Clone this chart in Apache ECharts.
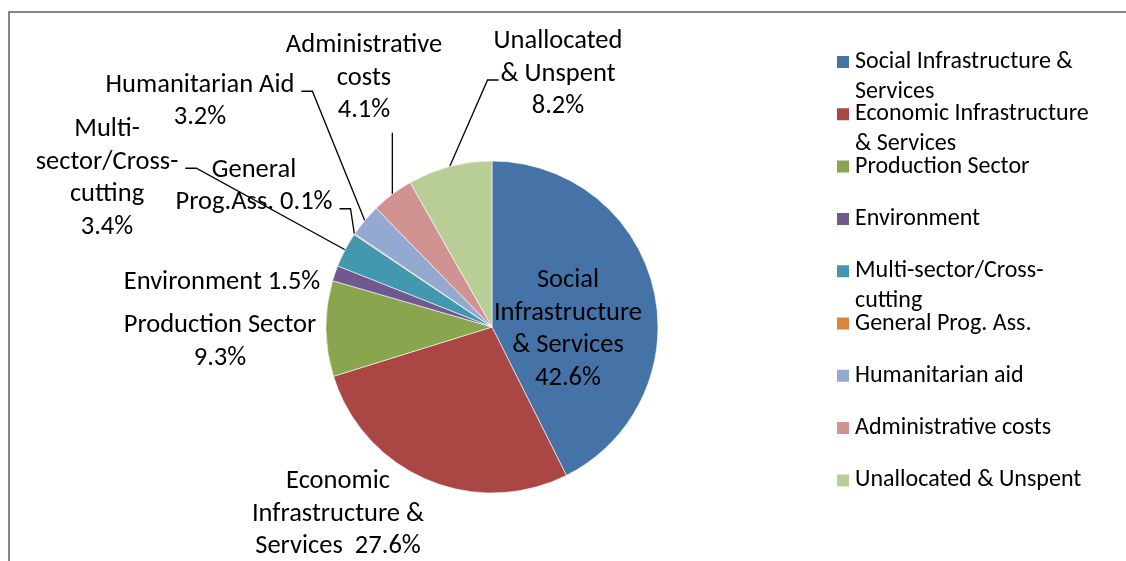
<!DOCTYPE html>
<html>
<head>
<meta charset="utf-8">
<script src="https://cdn.jsdelivr.net/npm/echarts@6/dist/echarts.min.js"></script>
<style>
  html, body { margin: 0; padding: 0; background: #fff; }
  #frame { position: absolute; left: 8px; top: 11px; width: 1300px; height: 800px;
           border-left: 2px solid #878787; border-top: 2px solid #878787; }
  #chart { position: absolute; left: 0; top: 0; width: 1126px; height: 561px; }
</style>
</head>
<body>
<div id="frame"></div>
<div id="chart"></div>
<script>
// Sectors, in clockwise order from 12 o'clock
const categories = [
  'Social Infrastructure & Services',
  'Economic Infrastructure & Services',
  'Production Sector',
  'Environment',
  'Multi-sector/Cross-cutting',
  'General Prog. Ass.',
  'Humanitarian aid',
  'Administrative costs',
  'Unallocated & Unspent'
];
// Share of the total, percent
const shares = [42.6, 27.6, 9.3, 1.5, 3.4, 0.1, 3.2, 4.1, 8.2];

// Legend entries as they wrap
const legendText = [
  'Social Infrastructure &\nServices',
  'Economic Infrastructure\n& Services',
  'Production Sector',
  'Environment',
  'Multi-sector/Cross-\ncutting',
  'General Prog. Ass.',
  'Humanitarian aid',
  'Administrative costs',
  'Unallocated & Unspent'
];
// Slice label names and what separates them from the percentage
const labelNames = [
  'Social\nInfrastructure\n& Services',
  'Economic\nInfrastructure &\nServices',
  'Production Sector',
  'Environment',
  'Multi-\nsector/Cross-\ncutting',
  'General\nProg.Ass.',
  'Humanitarian Aid',
  'Administrative\ncosts',
  'Unallocated\n& Unspent'
];
const valueSep = ['\n', '  ', '\n', ' ', '\n', ' ', '\n', '\n', '\n'];

const sliceColors = ['#4572A7', '#AA4643', '#89A54E', '#71588F', '#4198AF',
                     '#DB843D', '#93A9CF', '#D19392', '#B9CD96'];

// Layout: centre of each label block (px)
const labelCentres = [
  [568, 329.5], [338, 514], [220, 342], [222, 282], [107, 178.5],
  [254, 186.5], [200, 101.5], [364, 78], [558, 74]
];
// Leader lines: which side of the label block they join, and at which text line
const leaders = [null, null, null, null,
  { side: 'right', line: 1 }, { side: 'right', line: 1 }, { side: 'right', line: 0 },
  { side: 'bottom' }, { side: 'left', line: 1 }];

const FONT = 'Carlito, Calibri, Lato, sans-serif';
const LABEL_LH = 32.5;
const LEGEND_LH = 30;
const LEGEND_FIRST = 62;    // centre of the first legend swatch
const LEGEND_STEP = 52.3;   // swatch-to-swatch distance

const chart = echarts.init(document.getElementById('chart'), null, { renderer: 'canvas' });

const pieData = categories.map((name, i) => ({
  name: name,
  value: shares[i],
  itemStyle: { color: sliceColors[i] },
  label: i === 0 ? { position: 'inside' } : {},
  labelLine: { show: !!leaders[i] }
}));

// One legend block per entry so wrapped entries keep an even pitch.
// Wrapped text gets empty leading lines so its first line sits level
// with the swatch (legend text is always centred on the swatch).
const legends = categories.map((name, i) => {
  const lines = legendText[i].split('\n').length;
  const boxH = (2 * lines - 1) * LEGEND_LH;
  return {
    orient: 'vertical',
    left: 835,
    top: LEGEND_FIRST + i * LEGEND_STEP - boxH / 2,
    padding: 0,
    itemWidth: 14,
    itemHeight: 14,
    icon: 'rect',
    selectedMode: false,
    data: [name],
    formatter: n => '\n'.repeat(lines - 1) + legendText[categories.indexOf(n)],
    textStyle: { fontFamily: FONT, fontSize: 24, color: '#000', lineHeight: LEGEND_LH }
  };
});

chart.setOption({
  animation: false,
  backgroundColor: 'transparent',
  legend: legends,
  series: [{
    type: 'pie',
    center: [492, 327],
    radius: 166,
    startAngle: 90,
    clockwise: true,
    avoidLabelOverlap: false,
    itemStyle: { borderColor: '#ffffff', borderWidth: 0.6 },
    emphasis: { disabled: true },
    data: pieData,
    label: {
      show: true,
      position: 'outside',
      fontFamily: FONT,
      fontSize: 26.5,
      lineHeight: LABEL_LH,
      color: '#000',
      align: 'center',
      formatter: p => labelNames[p.dataIndex] + valueSep[p.dataIndex] + p.value.toFixed(1) + '%'
    },
    labelLine: { show: true, length: 10, length2: 10, lineStyle: { color: '#000', width: 1.3 } },
    labelLayout: function (p) {
      const i = p.dataIndex;
      const c = labelCentres[i];
      const out = { x: c[0], y: c[1], align: 'center', verticalAlign: 'middle' };
      const ld = leaders[i];
      if (ld && p.labelLinePoints) {
        const w = p.labelRect.width, h = p.labelRect.height;
        const top = c[1] - h / 2;
        const start = p.labelLinePoints[0];
        let end, elbow;
        if (ld.side === 'bottom') {
          end = [start[0], top + h + 6];
          elbow = end;
        } else {
          const y = top + LABEL_LH * (ld.line + 0.5) + 6;
          if (ld.side === 'right') {
            end = [c[0] + w / 2 + 7, y];
            elbow = [end[0] + 11, y];
          } else {
            end = [c[0] - w / 2 + 5, y];
            elbow = [end[0] - 11, y];
          }
        }
        out.labelLinePoints = [start, elbow, end];
      }
      return out;
    }
  }]
});
</script>
</body>
</html>
